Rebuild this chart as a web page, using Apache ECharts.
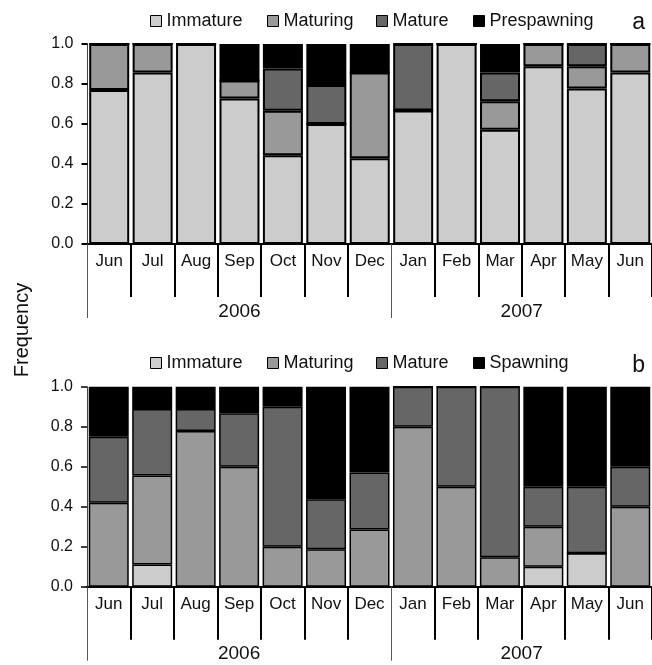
<!DOCTYPE html>
<html>
<head>
<meta charset="utf-8">
<script src="https://cdn.jsdelivr.net/npm/echarts@6/dist/echarts.min.js"></script>
<style>
html,body{margin:0;padding:0;background:#fff;}
#c{width:652px;height:665px;}
</style>
</head>
<body>
<div id="c"></div>
<script>
// ---- data ----
const months = ['Jun','Jul','Aug','Sep','Oct','Nov','Dec','Jan','Feb','Mar','Apr','May','Jun'];
const years = ['2006', '2007'];
const yearBounds = [0, 7, 13];       // category boundaries of the year groups
const yTicks = [0, 0.2, 0.4, 0.6, 0.8, 1.0];

// panel a
const aImmature    = [0.77, 0.857, 1.0, 0.727, 0.444, 0.6, 0.429, 0.667, 1.0, 0.571, 0.889, 0.778, 0.857];
const aMaturing    = [0.23, 0.143, 0, 0.091, 0.222, 0, 0.428, 0, 0, 0.143, 0.111, 0.111, 0.143];
const aMature      = [0, 0, 0, 0, 0.212, 0.195, 0, 0.333, 0, 0.143, 0, 0.111, 0];
const aPrespawning = [0, 0, 0, 0.182, 0.122, 0.205, 0.143, 0, 0, 0.143, 0, 0, 0];

// panel b
const bImmature = [0, 0.111, 0, 0, 0, 0, 0, 0, 0, 0, 0.1, 0.167, 0];
const bMaturing = [0.42, 0.445, 0.778, 0.6, 0.2, 0.1875, 0.286, 0.8, 0.5, 0.147, 0.2, 0, 0.4];
const bMature   = [0.33, 0.333, 0.111, 0.267, 0.7, 0.25, 0.285, 0.2, 0.5, 0.853, 0.2, 0.333, 0.2];
const bSpawning = [0.25, 0.111, 0.111, 0.133, 0.1, 0.5625, 0.429, 0, 0, 0, 0.5, 0.5, 0.4];

// ---- styling ----
const FONT = "'Liberation Sans', Arial, sans-serif";
const colors = {Immature:'#cccccc', Maturing:'#999999', Mature:'#666666', Prespawning:'#000000', Spawning:'#000000'};

const chart = echarts.init(document.getElementById('c'), null, {renderer:'canvas'});

const grids = [
  {left: 87.5, top: 44, height: 200, width: 565.5},
  {left: 87, top: 386.7, height: 200, width: 565.5}
];

function monthAxis(gi) {
  return {
    type: 'category', gridIndex: gi, data: months, position: 'bottom',
    boundaryGap: true,
    axisLine: {show: true, lineStyle: {color: '#000', width: 2}},
    axisTick: {show: true, length: 53, interval: function (idx) { return idx !== 0 && idx !== 7; },
               lineStyle: {color: '#000', width: 2}},
    axisLabel: {interval: 0, margin: 9, color: '#111', fontFamily: FONT, fontSize: 17},
    splitLine: {show: false}
  };
}
function yearAxis(gi) {
  return {
    type: 'value', gridIndex: gi, min: 0, max: 13, position: 'bottom',
    axisLine: {show: false},
    splitLine: {show: false},
    axisTick: {show: true, customValues: yearBounds, length: 74, lineStyle: {color: '#555', width: 1}},
    axisLabel: {show: true, customValues: [(yearBounds[0] + yearBounds[1]) / 2, (yearBounds[1] + yearBounds[2]) / 2],
                formatter: function (v) { return v < yearBounds[1] ? years[0] : years[1]; },
                margin: 58, color: '#111', fontFamily: FONT, fontSize: 19}
  };
}
function yAxis(gi, tw) {
  return {
    type: 'value', gridIndex: gi, min: 0, max: 1, interval: 0.2,
    axisLine: {show: true, lineStyle: {color: '#444', width: 1}},
    axisTick: {show: true, length: 6, lineStyle: {color: '#000', width: tw}},
    axisLabel: {margin: 14, color: '#111', fontFamily: FONT, fontSize: 16,
                formatter: function (v) { return v.toFixed(1); }},
    splitLine: {show: false}
  };
}

function barSeries(name, data, xi, yi, stack, bw) {
  return {
    type: 'bar', name: name, data: data, xAxisIndex: xi, yAxisIndex: yi, stack: stack,
    barWidth: 40,
    itemStyle: {color: colors[name], borderColor: '#000', borderWidth: bw},
    emphasis: {disabled: true},
    animation: false
  };
}

function legendItem(name, left, top) {
  return {
    data: [name], left: left, top: top, padding: 0, itemWidth: 11, itemHeight: 11,
    icon: 'rect', selectedMode: false,
    itemStyle: {borderColor: '#000', borderWidth: 1},
    textStyle: {color: '#111', fontFamily: FONT, fontSize: 18, lineHeight: 20}
  };
}

const option = {
  backgroundColor: '#fff',
  animation: false,
  grid: grids,
  xAxis: [monthAxis(0), yearAxis(0), monthAxis(1), yearAxis(1)],
  yAxis: [yAxis(0, 2), yAxis(1, 1.5)],
  legend: [
    legendItem('Immature', 150, 11), legendItem('Maturing', 267, 11),
    legendItem('Mature', 376, 11), legendItem('Prespawning', 473, 11),
    legendItem('Immature', 150, 353), legendItem('Maturing', 267, 353),
    legendItem('Mature', 376, 353), legendItem('Spawning', 473, 353)
  ],
  title: [
    {text: 'a', right: 2, top: 6, textStyle: {fontFamily: FONT, fontSize: 23, fontWeight: 'normal', color: '#111'}},
    {text: 'b', right: 2, top: 349, textStyle: {fontFamily: FONT, fontSize: 23, fontWeight: 'normal', color: '#111'}}
  ],
  graphic: [
    {type: 'text', x: 22, y: 330, rotation: Math.PI / 2,
     style: {text: 'Frequency', fill: '#111', font: "20px 'Liberation Sans', Arial, sans-serif",
              align: 'center', verticalAlign: 'middle'}}
  ],
  series: [
    barSeries('Immature', aImmature, 0, 0, 'a', 2),
    barSeries('Maturing', aMaturing, 0, 0, 'a', 2),
    barSeries('Mature', aMature, 0, 0, 'a', 2),
    barSeries('Prespawning', aPrespawning, 0, 0, 'a', 2),
    barSeries('Immature', bImmature, 2, 1, 'b', 1.5),
    barSeries('Maturing', bMaturing, 2, 1, 'b', 1.5),
    barSeries('Mature', bMature, 2, 1, 'b', 1.5),
    barSeries('Spawning', bSpawning, 2, 1, 'b', 1.5)
  ]
};
chart.setOption(option);
</script>
</body>
</html>
